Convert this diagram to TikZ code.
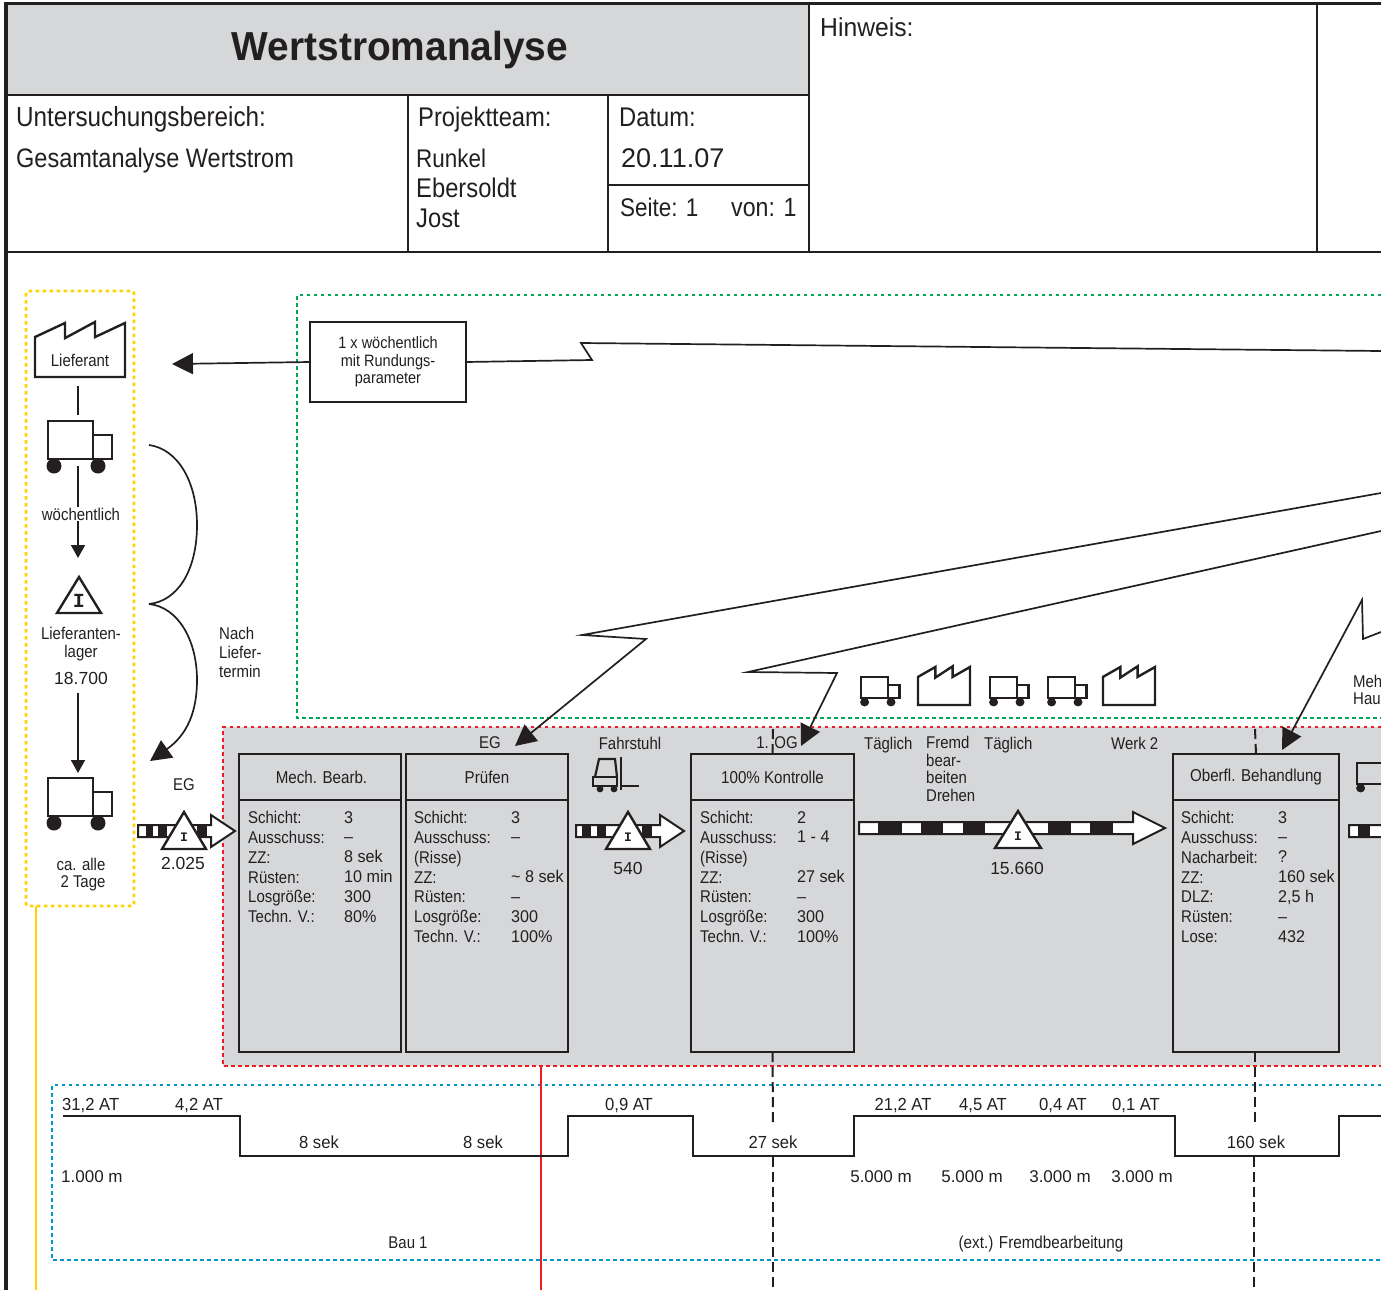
\documentclass[tikz,border=0pt]{standalone}
\usepackage{fontspec}
\setmainfont{Liberation Sans}[FakeStretch=0.88]
\newfontfamily\titlefont{Liberation Sans}[FakeStretch=0.96]
\newfontfamily\invfont{Liberation Mono}
\newfontfamily\numf{Liberation Sans}[FakeStretch=1.0]
\newfontfamily\midf{Liberation Sans}[FakeStretch=0.95]
\usetikzlibrary{arrows.meta}
\definecolor{vsmgray}{HTML}{D6D7D9}
\definecolor{vsmyellow}{HTML}{FFD200}
\definecolor{vsmgreen}{HTML}{00A651}
\definecolor{vsmred}{HTML}{ED1C24}
\definecolor{vsmblue}{HTML}{0096CC}
\definecolor{ink}{HTML}{231F20}
\tikzset{
  every node/.style={text=ink},
  rule/.style={draw=ink,line width=1.7pt},
  icon/.style={draw=ink,line width=2.4pt,line join=miter},
  conn/.style={draw=ink,line width=1.7pt},
  bigtip/.style={-{Triangle[length=21pt,width=21pt]}},
  smalltip/.style={-{Triangle[length=13pt,width=14pt]}},
  dotframe/.style={line width=2.8pt,dash pattern=on 3.5pt off 3.5pt},
  vdash/.style={draw=ink,line width=2pt,dash pattern=on 10pt off 5pt},
  hd/.style={inner sep=0pt,anchor=base west,font=\fontsize{27}{29}\selectfont},
  lbl/.style={inner sep=0pt,font=\fontsize{17}{17}\selectfont},
  col/.style={inner sep=0pt,anchor=north west,align=left,font=\fontsize{17}{19.85}\selectfont},
  colr/.style={col,font=\midf\fontsize{17}{19.85}\selectfont},
  prochead/.style={draw=ink,line width=2pt,fill=vsmgray,minimum height=46pt,outer sep=0pt,inner sep=0pt,font=\fontsize{17.2}{17}\selectfont},
  procbody/.style={draw=ink,line width=2pt,fill=vsmgray,minimum height=252pt,outer sep=0pt,inner sep=0pt},
  ordbox/.style={draw=ink,line width=2pt,fill=white,minimum width=156pt,minimum height=80pt,align=center,inner sep=0pt,outer sep=0pt,font=\fontsize{16.5}{17.5}\selectfont},
  tfont/.style={font=\midf\fontsize{17.5}{17}\selectfont},
  mfont/.style={font=\numf\fontsize{17}{18}\selectfont},
  nfont/.style={font=\numf\fontsize{17.5}{18}\selectfont},
}
\newcommand\tc[4]{\node[lbl,anchor=center] (#1) at (#2,#3) {#4};}
\newcommand\tl[4]{\node[lbl,anchor=west] (#1) at (#2,#3) {#4};}
% truck: top-left of box, x scale, y scale
\newcommand\truckicon[4]{\begin{scope}[shift={(#1,#2)},xscale=#3,yscale=#4]
  \draw[icon] (0,0) rectangle (45,38);
  \draw[icon] (45,14) rectangle (64,38);
  \fill[ink] (6,45) circle[radius=7.5] (50,45) circle[radius=7.5];
\end{scope}}
% factory: left, bottom, width, height
\newcommand\factoryicon[4]{\begin{scope}[shift={(#1,#2)},xscale=#3,yscale=#4]
  \draw[icon,miter limit=6] (0,0) -- (1,0) -- (1,-1) -- (.667,-.74) -- (.667,-1.02) -- (.333,-.72) -- (.333,-1) -- (0,-.74) -- cycle;
\end{scope}}
% inventory: name, tip x, tip y, half width, height, I size
\newcommand\inv[6]{\draw[icon,fill=white,line join=miter] (#2,#3) -- ++(#4,#5) -- ++(-2*#4,0) -- cycle;
  \node[inner sep=0pt,font=\invfont\bfseries\fontsize{#6}{#6}\selectfont] (#1) at (#2,#3+#5*0.67) {I};}
% push arrow: x0, base of head, tip, y
\newcommand\pushbar[4]{\draw[icon,fill=white,line width=2pt] (#1,#4-6) -- (#2,#4-6) -- (#2,#4-16) -- (#3,#4) -- (#2,#4+16) -- (#2,#4+6) -- (#1,#4+6) -- cycle;}
\newcommand\stripe[3]{\fill[ink] (#1,#3-6) rectangle (#2,#3+6);}
\begin{document}
\begin{tikzpicture}[x=1pt,y=-1pt]
\useasboundingbox (0,0) rectangle (1381,1290);
\clip (0,0) rectangle (1381,1290);
% --- title block
\fill[vsmgray] (7,5) rectangle (809,95);
\node[inner sep=0pt,font=\titlefont\bfseries\fontsize{40.5}{40}\selectfont] (title) at (400,50) {Wertstromanalyse};
\draw[rule] (7,95) -- (809,95);
\draw[rule] (7,252) -- (1381,252);
\draw[rule] (408,95) -- (408,252);
\draw[rule] (608,95) -- (608,252);
\draw[rule] (809,5) -- (809,252);
\draw[rule] (1317,5) -- (1317,252);
\draw[rule] (608,185) -- (809,185);
\draw[draw=ink,line width=3.6pt] (6,1290) -- (6,3.5) -- (1381,3.5);
\node[hd,font=\fontsize{27.6}{29}\selectfont] (h1) at (16,126) {Untersuchungsbereich:};
\node[hd,font=\fontsize{26.7}{29}\selectfont] (h2) at (16,167) {Gesamtanalyse Wertstrom};
\node[hd] (h3) at (418,126) {Projektteam:};
\node[hd,font=\fontsize{25.5}{29}\selectfont] (h4) at (416,167) {Runkel};
\node[hd] (h5) at (416,197) {Ebersoldt};
\node[hd] (h6) at (416,227) {Jost};
\node[hd] (h7) at (619,126) {Datum:};
\node[hd,font=\numf\fontsize{27}{29}\selectfont] (h8) at (621,167) {20.11.07};
\node[hd,font=\fontsize{25.5}{29}\selectfont] (h9) at (620,216) {Seite: 1};
\node[hd,font=\fontsize{26.3}{29}\selectfont] (h10) at (731,216) {von: 1};
\node[hd,font=\midf\fontsize{26}{29}\selectfont] (h11) at (820,37) {Hinweis:};
% --- regions
\fill[vsmgray] (223,727) rectangle (1381,1066);
\draw[vsmred,dotframe] (1381,727) -- (223,727) -- (223,1066) -- (1381,1066);
\draw[vsmgreen,dotframe] (1381,295) -- (297,295) -- (297,718) -- (1381,718);
\draw[vsmblue,dotframe] (1381,1085) -- (52,1085) -- (52,1260) -- (1381,1260);
\draw[vsmyellow,dotframe,rounded corners=2pt] (26,291) rectangle (134,906);
\coordinate (yb) at (36,906); \coordinate (ye) at (36,1290);
\draw[vsmyellow,line width=1.8pt] (yb) -- (ye);
\coordinate (rb) at (541,1066); \coordinate (re) at (541,1290);
\draw[vsmred,line width=1.8pt] (rb) -- (re);
% --- supplier column
\factoryicon{35}{377}{90}{54}
\tc{lief}{80}{360}{Lieferant}
\truckicon{48}{421}{1}{1}
\inv{inv1}{79}{577}{22}{36}{20}
\tc{liefl1}{81}{633}{Lieferanten-}
\tc{liefl2}{81}{653}{lager}
\node[lbl,nfont] (liefl3) at (81,678) {18.700};
\truckicon{48}{778}{1}{1}
\node[lbl,anchor=base] (alle1) at (81,870) {ca. alle};
\node[lbl,anchor=base] (alle2) at (83,887) {2 Tage};
\coordinate (c1a) at (78,386); \coordinate (c1b) at (78,415);
\draw[conn] (c1a) -- (c1b);
\coordinate (c2a) at (78,466); \coordinate (c2b) at (78,558);
\draw[conn,smalltip] (c2a) -- (c2b);
\node[lbl,fill=white,inner xsep=0pt,inner ysep=1pt] (woech) at (81,514) {wöchentlich};
\coordinate (c3a) at (78,693); \coordinate (c3b) at (78,773);
\draw[conn,smalltip] (c3a) -- (c3b);
% --- delivery curves
\coordinate (br1) at (149,445); \coordinate (br2) at (149,604); \coordinate (br3) at (150,761);
\draw[conn] (br1) .. controls (178,449) and (197,482) .. (197,525) .. controls (197,570) and (178,601) .. (br2);
\draw[conn,bigtip] (br2) .. controls (178,607) and (197,640) .. (197,680) .. controls (197,712) and (187,735) .. (br3);
\node[lbl,anchor=north west,align=left,font=\fontsize{17}{19}\selectfont] (nach) at (219,627) {Nach\\Liefer-\\termin};
% --- order box and signals
\node[ordbox] (ord) at (388,362) {1 x wöchentlich\\mit Rundungs-\\parameter};
\coordinate (a0) at (172,364);
\draw[conn,bigtip] (ord.west) -- (a0);
\coordinate (z1) at (1381,351);
\draw[conn,line join=miter] (ord.east) -- (592,360) -- (581,343) -- (z1);
\coordinate (z2) at (1381,493); \coordinate (t2) at (515,746);
\draw[conn,bigtip,line join=miter] (z2) -- (582,635) -- (646,639) -- (t2);
\coordinate (z3) at (1381,531); \coordinate (t3) at (801,746);
\draw[conn,bigtip,line join=miter] (z3) -- (748,672) -- (837,673) -- (t3);
\coordinate (z4) at (1381,632); \coordinate (t4) at (1282,750);
\draw[conn,bigtip,line join=miter] (z4) -- (1363,639) -- (1362,600) -- (t4);
% --- icons above process row
\truckicon{861}{677}{.6}{.56}
\factoryicon{918}{705}{52}{38}
\truckicon{990}{677}{.6}{.56}
\truckicon{1048}{677}{.6}{.56}
\factoryicon{1103}{705}{52}{38}
\tl{meh}{1353}{681}{Meh}
\tl{hau}{1353}{699}{Hau}
% --- process boxes
\node[prochead,minimum width=162pt] (p1h) at (320,777) {\hspace{3pt}Mech. Bearb.};
\node[procbody,minimum width=162pt] (p1b) at (320,926) {};
\node[prochead,minimum width=162pt] (p2h) at (487,777) {Prüfen};
\node[procbody,minimum width=162pt] (p2b) at (487,926) {};
\node[prochead,minimum width=163pt] (p3h) at (772.5,777) {100\% Kontrolle};
\node[procbody,minimum width=163pt] (p3b) at (772.5,926) {};
\node[prochead,minimum width=166pt] (p4h) at (1256,777) {Oberfl. Behandlung};
\node[procbody,minimum width=166pt] (p4b) at (1256,926) {};
\node[col] (p1l) at (248,811) {Schicht:\\Ausschuss:\\ZZ:\\Rüsten:\\Losgröße:\\Techn. V.:};
\node[colr] (p1r) at (344,811) {3\\–\\8 sek\\10 min\\300\\80\%};
\node[col] (p2l) at (414,811) {Schicht:\\Ausschuss:\\(Risse)\\ZZ:\\Rüsten:\\Losgröße:\\Techn. V.:};
\node[colr] (p2r) at (511,811) {3\\–\\~\\\textasciitilde{} 8 sek\\–\\300\\100\%};
\node[col] (p3l) at (700,811) {Schicht:\\Ausschuss:\\(Risse)\\ZZ:\\Rüsten:\\Losgröße:\\Techn. V.:};
\node[colr] (p3r) at (797,811) {2\\1 - 4\\~\\27 sek\\–\\300\\100\%};
\node[col] (p4l) at (1181,811) {Schicht:\\Ausschuss:\\Nacharbeit:\\ZZ:\\DLZ:\\Rüsten:\\Lose:};
\node[colr] (p4r) at (1278,811) {3\\–\\?\\160 sek\\2,5 h\\–\\432};
% --- labels in the process row
\tc{eg1}{184}{785}{EG}
\tc{eg2}{490}{743}{EG}
\tc{fahr}{630}{743}{Fahrstuhl}
\tc{og}{777}{743}{1. OG}
\tl{tg1}{864}{745}{Täglich}
\node[lbl,anchor=north west,align=left,font=\fontsize{17}{17.7}\selectfont] (fremd) at (926,736) {Fremd\\bear-\\beiten\\Drehen};
\tl{tg2}{984}{745}{Täglich}
\tl{werk}{1111}{743}{Werk 2}
\coordinate (d3a) at (773,729);
\draw[vdash] (d3a) -- (p3h.north);
\coordinate (d4a) at (1255,729);
\draw[vdash] (d4a) -- (p4h.north);
% --- forklift
\draw[icon,line width=2.2pt] (593,777) rectangle (617,786);
\draw[icon,line width=2.2pt] (595,777) -- (599,759) -- (615,759) -- (617,777);
\draw[icon,line width=2.2pt] (621,757) -- (621,790);
\draw[icon,line width=2.2pt] (621,786) -- (639,786);
\fill[ink] (600,789) circle[radius=3.4] (614,789) circle[radius=3.4];
% --- push arrows
\pushbar{138}{211}{235}{831}
\stripe{146}{153}{831}\stripe{158}{167}{831}\stripe{197}{207}{831}
\inv{inv2}{184}{812}{22}{37}{13}
\node[lbl,nfont] (n2025) at (183,863) {2.025};
\pushbar{576}{660}{684}{831}
\stripe{582}{591}{831}\stripe{597}{606}{831}\stripe{642}{652}{831}
\inv{inv3}{628}{812}{22}{37}{13}
\node[lbl,nfont] (n540) at (628,868) {540};
\pushbar{859}{1133}{1165}{828}
\stripe{878}{902}{828}\stripe{921}{943}{828}\stripe{963}{985}{828}\stripe{1048}{1071}{828}\stripe{1090}{1113}{828}
\inv{inv4}{1018}{811}{23}{37}{13}
\node[lbl,nfont] (n15660) at (1017,868) {15.660};
\truckicon{1357}{763}{.6}{.56}
\pushbar{1349}{1420}{1445}{831}
\stripe{1358}{1370}{831}
% --- timeline
\draw[rule,line width=2.1pt] (63,1116) -- (240,1116) -- (240,1156) -- (568,1156) -- (568,1116) -- (693,1116) -- (693,1156) -- (854,1156) -- (854,1116) -- (1175,1116) -- (1175,1156) -- (1339,1156) -- (1339,1116) -- (1381,1116);
\coordinate (d3b) at (773,1124); \coordinate (d3c) at (773,1157); \coordinate (d3d) at (773,1290);
\coordinate (d4b) at (1255,1124); \coordinate (d4c) at (1254,1157); \coordinate (d4d) at (1254,1290);
\draw[vdash] (p3b.south) -- (d3b);
\draw[vdash] (d3c) -- (d3d);
\draw[vdash] (p4b.south -| d4b) -- (d4b);
\draw[vdash] (d4c) -- (d4d);
\node[lbl,tfont,anchor=base west] (at1) at (62,1110) {31,2 AT};
\node[lbl,tfont,anchor=base west] (at2) at (175,1110) {4,2 AT};
\node[lbl,tfont] (s1) at (319,1142) {8 sek};
\node[lbl,tfont] (s2) at (483,1142) {8 sek};
\node[lbl,tfont,anchor=base] (at3) at (629,1110) {0,9 AT};
\node[lbl,tfont] (s3) at (773,1142) {27 sek};
\node[lbl,tfont,anchor=base] (at4) at (903,1110) {21,2 AT};
\node[lbl,tfont,anchor=base] (at5) at (983,1110) {4,5 AT};
\node[lbl,tfont,anchor=base] (at6) at (1063,1110) {0,4 AT};
\node[lbl,tfont,anchor=base] (at7) at (1136,1110) {0,1 AT};
\node[lbl,tfont] (s4) at (1256,1142) {160 sek};
\node[lbl,mfont,anchor=west] (m1) at (61,1177) {1.000 m};
\node[lbl,mfont] (m2) at (881,1177) {5.000 m};
\node[lbl,mfont] (m3) at (972,1177) {5.000 m};
\node[lbl,mfont] (m4) at (1060,1177) {3.000 m};
\node[lbl,mfont] (m5) at (1142,1177) {3.000 m};
\tc{bau}{408}{1243}{Bau 1}
\node[lbl,anchor=center,font=\fontsize{17.3}{17}\selectfont] (ext) at (1041,1244) {(ext.) Fremdbearbeitung};
\end{tikzpicture}
\end{document}
